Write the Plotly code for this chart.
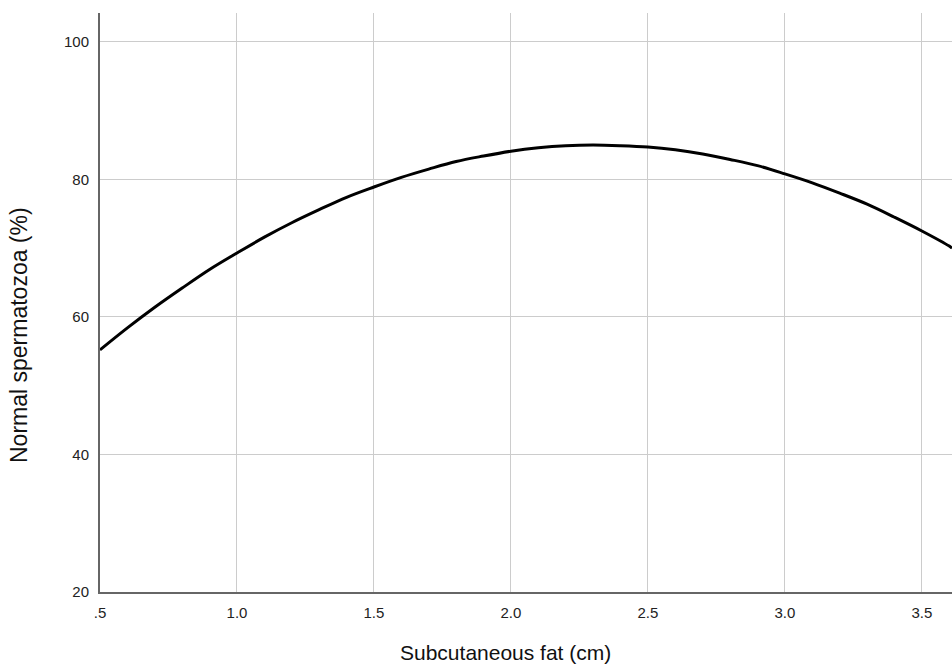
import plotly.graph_objects as go

# Values
fat_cm = [0.5, 0.6, 0.7, 0.8, 0.9, 1.0, 1.1, 1.2, 1.3, 1.4, 1.5, 1.6, 1.7, 1.8, 1.9,
          2.0, 2.1, 2.2, 2.3, 2.4, 2.5, 2.6, 2.7, 2.8, 2.9, 3.0, 3.1, 3.2, 3.3, 3.4,
          3.5, 3.6, 3.61]
normal_pct = [55.2, 58.4, 61.4, 64.2, 66.9, 69.3, 71.6, 73.7, 75.6, 77.4, 78.9, 80.3,
              81.5, 82.6, 83.4, 84.1, 84.6, 84.9, 85.0, 84.9, 84.7, 84.3, 83.7, 82.9,
              82.0, 80.8, 79.5, 78.0, 76.4, 74.5, 72.5, 70.3, 70.0]

x_ticks = [0.5, 1.0, 1.5, 2.0, 2.5, 3.0, 3.5]
x_tick_labels = [".5", "1.0", "1.5", "2.0", "2.5", "3.0", "3.5"]
y_ticks = [20, 40, 60, 80, 100]
y_tick_labels = ["20", "40", "60", "80", "100"]

x_title = "Subcutaneous fat (cm)"
y_title = "Normal spermatozoa (%)"

fig = go.Figure()
fig.add_trace(go.Scatter(
    x=fat_cm, y=normal_pct, mode="lines",
    line=dict(color="black", width=3, shape="spline"),
    hoverinfo="skip", showlegend=False,
))

font = "Liberation Sans, Arial, sans-serif"
tick_font = dict(size=15, family=font, color="#222222")
fig.update_layout(
    width=952, height=664,
    margin=dict(l=100, r=0, t=13, b=72),
    paper_bgcolor="white", plot_bgcolor="white",
    font=dict(family=font, color="#222222", size=15),
    showlegend=False,
    xaxis=dict(
        range=[0.5, 3.61], tickmode="array", tickvals=x_ticks, ticktext=x_tick_labels,
        showgrid=True, gridcolor="#cccccc", gridwidth=1.3,
        showline=True, linecolor="#666666", linewidth=2,
        ticks="", ticklabelstandoff=6, zeroline=False,
        tickfont=tick_font,
    ),
    yaxis=dict(
        range=[20, 104.2], tickmode="array", tickvals=y_ticks, ticktext=y_tick_labels,
        showgrid=True, gridcolor="#cccccc", gridwidth=1.3,
        showline=True, linecolor="#666666", linewidth=2,
        ticks="", ticklabelstandoff=6, zeroline=False,
        tickfont=tick_font,
    ),
    annotations=[
        dict(text=x_title, xref="paper", yref="paper", x=(505 - 100) / 852, y=-(652 - 592) / 579,
             showarrow=False, xanchor="center", yanchor="middle",
             font=dict(size=21, family=font, color="#111111")),
        dict(text=y_title, xref="paper", yref="paper", x=-(100 - 19) / 852, y=(592 - 335) / 579,
             showarrow=False, xanchor="center", yanchor="middle", textangle=-90,
             font=dict(size=23, family=font, color="#111111")),
    ],
)

fig.write_html("out.html")
